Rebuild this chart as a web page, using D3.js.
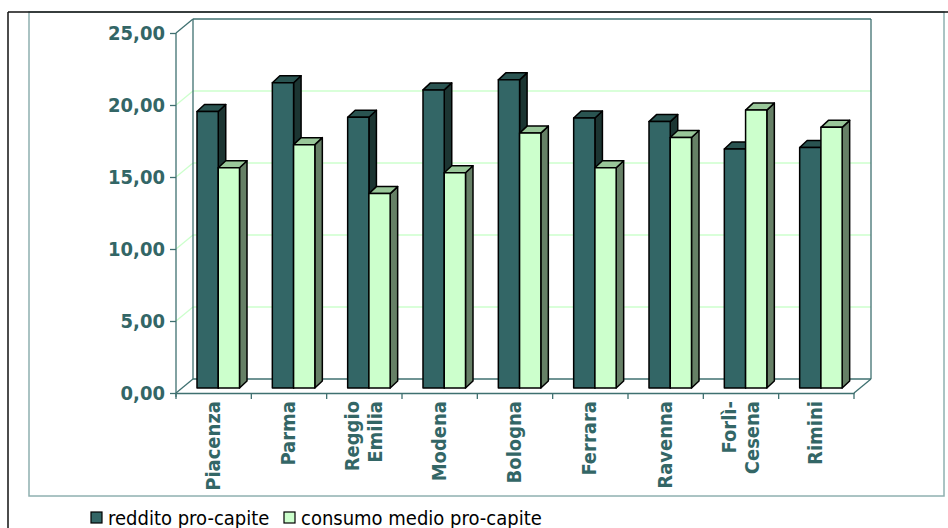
<!DOCTYPE html>
<html>
<head>
<meta charset="utf-8">
<script src="https://cdn.jsdelivr.net/npm/d3@7"></script>
<style>
  html, body { margin: 0; padding: 0; background: #fff; }
  svg { display: block; }
</style>
</head>
<body>
<svg id="chart" width="948" height="528"></svg>
<script>
// ---- data ----
const categories = ["Piacenza", "Parma", "Reggio Emilia", "Modena", "Bologna", "Ferrara", "Ravenna", "Forlì-Cesena", "Rimini"];
const categoryLines = [["Piacenza"], ["Parma"], ["Reggio", "Emilia"], ["Modena"], ["Bologna"], ["Ferrara"], ["Ravenna"], ["Forlì-", "Cesena"], ["Rimini"]];
const seriesNames = ["reddito pro-capite", "consumo medio pro-capite"];
const reddito = [19.2, 21.2, 18.8, 20.7, 21.4, 18.75, 18.5, 16.6, 16.7];
const consumo = [15.3, 16.9, 13.5, 14.95, 17.7, 15.3, 17.4, 19.3, 18.1];
const yTicks = [0, 5, 10, 15, 20, 25];

// ---- styles ----
const TEAL = "#336666";
const WALL = "#3f7070";
const GRID = "#ccffcc";
const BOLDFONT = "'DejaVu Sans Condensed', 'DejaVu Sans', Verdana, sans-serif";
const faces = [
  { front: "#336666", top: "#2a5451", side: "#1c3532" },
  { front: "#ccffcc", top: "#99c799", side: "#668066" }
];

const svg = d3.select("#chart");

// outer borders
svg.append("rect").attr("x", 29).attr("y", 12).attr("width", 915).attr("height", 484)
  .attr("fill", "none").attr("stroke", "#8fb0b0").attr("stroke-width", 1.5);
svg.append("line").attr("x1", 8).attr("x2", 8).attr("y1", 12).attr("y2", 528)
  .attr("stroke", "#111").attr("stroke-width", 1.5);
svg.append("line").attr("x1", 8).attr("x2", 948).attr("y1", 12).attr("y2", 12)
  .attr("stroke", "#111").attr("stroke-width", 1.5);

// scales
const x0 = 176, x1 = 854;
const DX = 17, DY = -14; // wall depth
const x = d3.scaleBand().domain(categories).range([x0, x1]).padding(0);
const y = d3.scaleLinear().domain([0, 25]).range([393, 33]);
const xs = d3.scaleBand().domain(seriesNames).range([15, 15 + 42.5]).padding(0);
const yTop = y(25), yBot = y(0);

// back wall gridlines
const g = svg.append("g");
yTicks.filter(v => v > 0 && v < 25).forEach(v => {
  g.append("line").attr("x1", x0 + DX).attr("x2", x1 + DX)
    .attr("y1", y(v) + DY).attr("y2", y(v) + DY)
    .attr("stroke", GRID).attr("stroke-width", 1.3);
  g.append("line").attr("x1", x0).attr("x2", x0 + DX)
    .attr("y1", y(v)).attr("y2", y(v) + DY)
    .attr("stroke", GRID).attr("stroke-width", 1.3);
});

// walls / floor outline
const wallPath = [
  [[x0, yTop], [x0 + DX, yTop + DY]],
  [[x0 + DX, yTop + DY], [x1 + DX, yTop + DY]],
  [[x1 + DX, yTop + DY], [x1 + DX, yBot + DY]],
  [[x0 + DX, yTop + DY], [x0 + DX, yBot + DY]],
  [[x0 + DX, yBot + DY], [x1 + DX, yBot + DY]],
  [[x0, yBot], [x0 + DX, yBot + DY]],
  [[x1, yBot], [x1 + DX, yBot + DY]]
];
wallPath.forEach(seg => {
  g.append("line").attr("x1", seg[0][0]).attr("y1", seg[0][1]).attr("x2", seg[1][0]).attr("y2", seg[1][1])
    .attr("stroke", WALL).attr("stroke-width", 1.3);
});

// floor front line with category ticks
const xAxis = d3.axisBottom(x).tickSize(0).tickFormat("");
const gx = svg.append("g").attr("transform", `translate(0,${yBot})`).call(xAxis);
gx.select(".domain").attr("stroke", WALL).attr("stroke-width", 1.3);
d3.range(categories.length + 1).forEach(i => {
  const xx = x0 + i * x.bandwidth();
  gx.append("line").attr("x1", xx).attr("x2", xx).attr("y1", 0).attr("y2", 6)
    .attr("stroke", WALL).attr("stroke-width", 1.3);
});

// y axis
const loc = d3.formatLocale({ decimal: ",", thousands: ".", grouping: [3], currency: ["", "€"] });
const yAxis = d3.axisLeft(y).tickValues(yTicks).tickSize(6).tickPadding(5).tickFormat(loc.format(".2f"));
const gy = svg.append("g").attr("transform", `translate(${x0},0)`).call(yAxis);
gy.select(".domain").attr("stroke", WALL).attr("stroke-width", 1.3).attr("d", `M0,${yTop}V${yBot + 4}`);
gy.selectAll(".tick line").attr("stroke", WALL).attr("stroke-width", 1.3);
gy.selectAll(".tick text").attr("fill", TEAL)
  .style("font-family", BOLDFONT).style("font-weight", "bold").style("font-size", "20px");

// bars
const SX = 6, SY = -5;      // bar plane offset from front
const BDX = 7.5, BDY = -7;  // bar depth
const barsG = svg.append("g");
const seriesVals = [reddito, consumo];
categories.forEach((c, i) => {
  seriesNames.forEach((s, j) => {
    const v = seriesVals[j][i];
    const bx = x(c) + xs(s) + SX;
    const bw = xs.bandwidth();
    const by = y(v) + SY;
    const bb = y(0) + SY;
    const f = faces[j];
    const gg = barsG.append("g").attr("stroke", "#000").attr("stroke-width", 1.5).attr("stroke-linejoin", "round");
    gg.append("path").attr("fill", f.side)
      .attr("d", `M${bx + bw},${by}L${bx + bw + BDX},${by + BDY}L${bx + bw + BDX},${bb + BDY}L${bx + bw},${bb}Z`);
    gg.append("path").attr("fill", f.top)
      .attr("d", `M${bx},${by}L${bx + BDX},${by + BDY}L${bx + bw + BDX},${by + BDY}L${bx + bw},${by}Z`);
    gg.append("rect").attr("fill", f.front).attr("x", bx).attr("y", by).attr("width", bw).attr("height", bb - by);
  });
});

// category labels
const labG = svg.append("g");
categories.forEach((c, i) => {
  const lines = categoryLines[i];
  const cx = x(c) + x.bandwidth() / 2;
  const t = labG.append("text")
    .attr("transform", `translate(${cx},401) rotate(-90)`)
    .attr("text-anchor", "end")
    .attr("fill", TEAL)
    .style("font-family", BOLDFONT).style("font-weight", "bold").style("font-size", "20px");
  lines.forEach((ln, k) => {
    t.append("tspan").attr("x", 0).attr("y", (k - (lines.length - 1) / 2) * 23 - 1)
      .attr("dominant-baseline", "central").text(ln);
  });
});

// legend
const legG = svg.append("g").style("font-family", "'DejaVu Sans Condensed', Tahoma, 'DejaVu Sans', sans-serif").style("font-size", "20px");
const legPos = [91, 284];
seriesNames.forEach((s, j) => {
  legG.append("rect").attr("x", legPos[j]).attr("y", 512).attr("width", 11).attr("height", 11)
    .attr("fill", faces[j].front).attr("stroke", "#000").attr("stroke-width", 1.2);
  legG.append("text").attr("x", legPos[j] + 17).attr("y", 524.5).attr("fill", "#000").text(s);
});
</script>
</body>
</html>
